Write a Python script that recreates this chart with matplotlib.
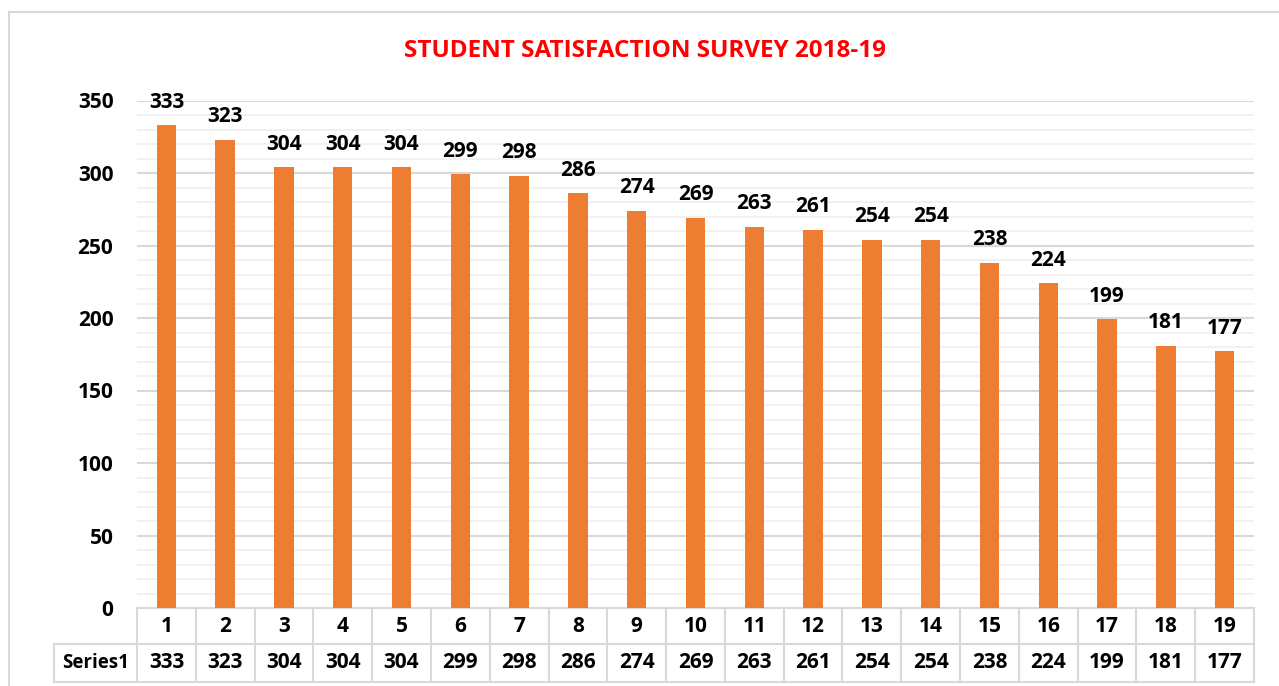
import matplotlib.pyplot as plt
from matplotlib.patches import Rectangle
from matplotlib.transforms import blended_transform_factory

plt.rcParams['font.family'] = ['Open Sans', 'DejaVu Sans']

categories = [str(i) for i in range(1, 20)]
values = [333, 323, 304, 304, 304, 299, 298, 286, 274, 269,
          263, 261, 254, 254, 238, 224, 199, 181, 177]
series_name = 'Series1'
title = 'STUDENT SATISFACTION SURVEY 2018-19'

W, H = 1279, 686
fig = plt.figure(figsize=(W / 100, H / 100), dpi=100)

# chart frame
fig.patches.append(Rectangle((9 / W, -0.1), 1.2, (H - 12) / H + 0.1,
                             transform=fig.transFigure, fill=False,
                             edgecolor='#d9d9d9', linewidth=1.5))

left, right, top, bottom = 137, 1254, 100.5, 608
ax = fig.add_axes([left / W, 1 - bottom / H, (right - left) / W, (bottom - top) / H])

x = list(range(1, len(values) + 1))
ax.bar(x, values, width=0.33, color='#ED7D31', zorder=3)
ax.set_xlim(0.5, len(values) + 0.5)
ax.set_ylim(0, 350)

# gridlines: major every 50, minor every 10
for y in range(10, 351, 10):
    if y % 50 == 0:
        ax.axhline(y, color='#d9d9d9', linewidth=1.5, zorder=1)
    else:
        ax.axhline(y, color='#efefef', linewidth=1.2, zorder=1)

fs = 15
ax.set_yticks(range(0, 351, 50))
ax.set_yticklabels([str(v) for v in range(0, 351, 50)], fontsize=fs, fontweight='bold')
ax.tick_params(axis='y', length=0, pad=17)
ax.set_xticks([])
for s in ax.spines.values():
    s.set_visible(False)

for xi, v in zip(x, values):
    ax.annotate(str(v), (xi, v), xytext=(0, 9), textcoords='offset points',
                ha='center', va='bottom', fontsize=fs, fontweight='bold')

# data table
tr = blended_transform_factory(ax.transData, ax.transAxes)
ph = bottom - top
r1 = -(644 - bottom) / ph
r2 = -(682 - bottom) / ph
lc = '#d9d9d9'
n = len(values)
ax.plot([0.5, n + 0.5], [0, 0], transform=tr, color=lc, lw=1.5, clip_on=False)
ax.plot([0.5, n + 0.5], [r1, r1], transform=tr, color=lc, lw=1.5, clip_on=False)
ax.plot([0.5, n + 0.5], [r2, r2], transform=tr, color=lc, lw=1.5, clip_on=False)
for b in range(n + 1):
    ax.plot([b + 0.5, b + 0.5], [0, r2], transform=tr, color=lc, lw=1.5, clip_on=False)
# Series1 label cell
lx = (54 - left) / (right - left)
ax.plot([lx, 0], [r1, r1], transform=ax.transAxes, color=lc, lw=1.5, clip_on=False)
ax.plot([lx, 0], [r2, r2], transform=ax.transAxes, color=lc, lw=1.5, clip_on=False)
ax.plot([lx, lx], [r1, r2], transform=ax.transAxes, color=lc, lw=1.5, clip_on=False)
ax.text((lx + 0) / 2, (r1 + r2) / 2, series_name, transform=ax.transAxes,
        ha='center', va='center', fontsize=13.5, fontweight='bold')

for xi, c, v in zip(x, categories, values):
    ax.text(xi, r1 / 2, c, transform=tr, ha='center', va='center',
            fontsize=fs, fontweight='bold')
    ax.text(xi, (r1 + r2) / 2, str(v), transform=tr, ha='center', va='center',
            fontsize=fs, fontweight='bold')

fig.text(645 / W, 1 - 51 / H, title, ha='center', va='center',
         fontsize=17.5, fontweight='bold', color='#FF0000')

fig.savefig('out.png', dpi=100)
